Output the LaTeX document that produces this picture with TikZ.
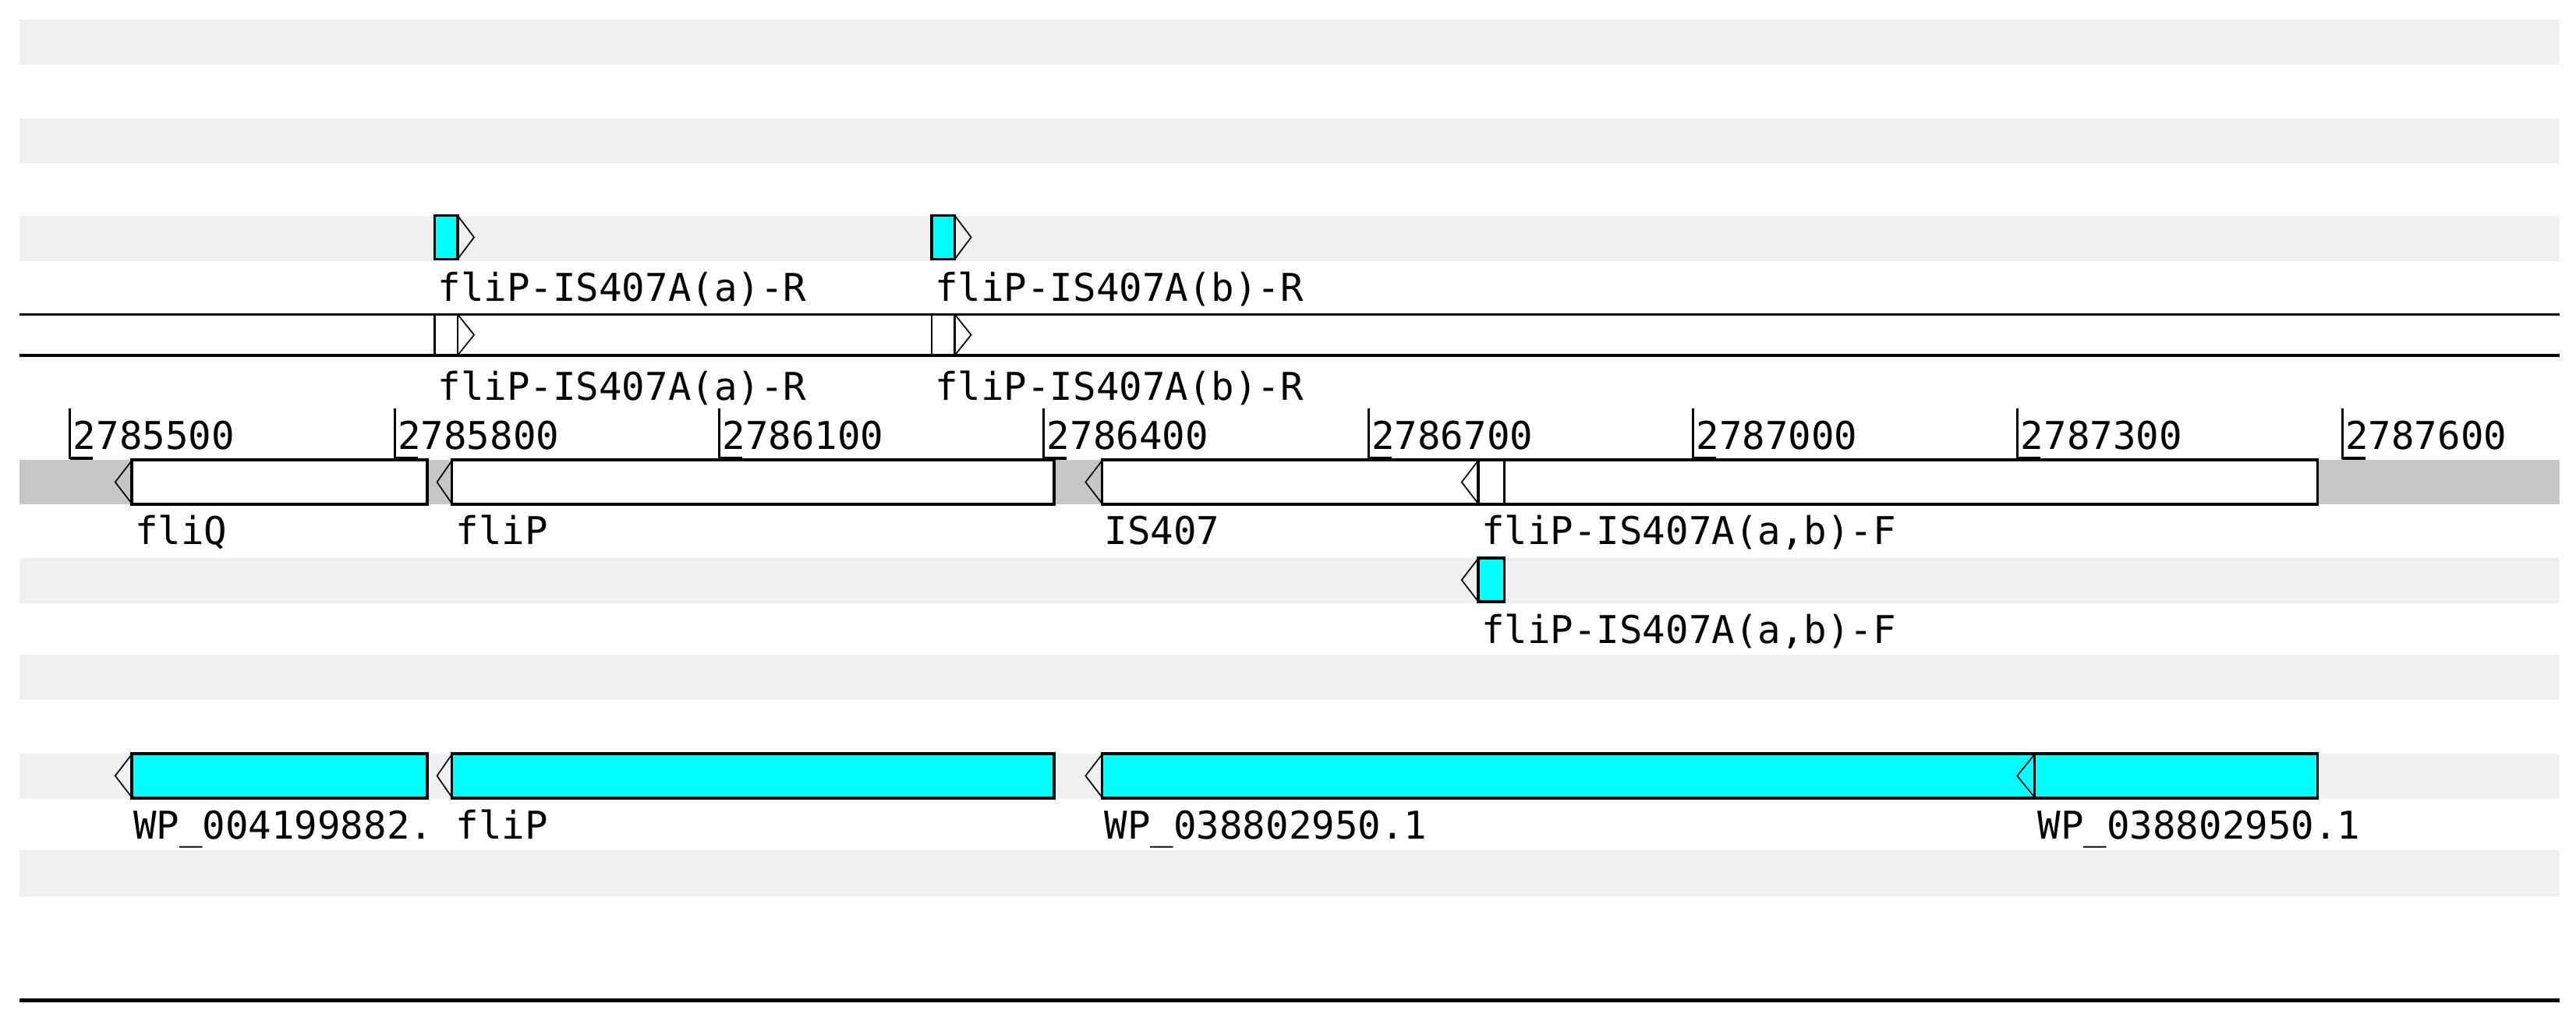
\documentclass[tikz,border=0pt]{standalone}
\usepackage{fontspec}
\setmonofont{DejaVu Sans Mono}
\definecolor{bandgrey}{HTML}{F0F0F0}
\definecolor{trackgrey}{HTML}{C6C6C6}
\definecolor{featcyan}{HTML}{00FFFF}
\begin{document}
\begin{tikzpicture}[x=1pt,y=-1pt,
  band/.style={fill=bandgrey},
  track/.style={fill=trackgrey},
  featbox/.style={draw=black,line width=1.7pt},
  headline/.style={draw=black,line width=0.8pt,line join=miter},
  rulerline/.style={draw=black,line width=1.5pt},
  lbl/.style={anchor=base west,inner sep=0pt,outer sep=0pt,font=\ttfamily\fontsize{23.25}{28}\selectfont}]
\useasboundingbox (0,0) rectangle (1565,620.5);
\fill[white] (0,0) rectangle (1565,620.5);
% bands
\foreach \yy in {12,72,131,339,398,458,517}
  \fill[band] (12,\yy) rectangle (1555,\yy+27.5);
\fill[track] (12,279.5) rectangle (1555,306.5);
% top track: reverse primers (cyan)
\foreach \xa in {264,566}{
  \draw[featbox,fill=featcyan] (\xa,131) rectangle (\xa+14,157.5);
  \draw[headline] (\xa+14,131) -- (\xa+24,144.2) -- (\xa+14,157.5);
}
\node[lbl] (ra1) at (266,183) {fliP-IS407A(a)-R};
\node[lbl] (rb1) at (568,183) {fliP-IS407A(b)-R};
% line track
\draw[rulerline] (12,191) -- (1555,191);
\draw[rulerline] (12,216) -- (1555,216);
\foreach \xa in {264,566}{
  \draw[line width=1.3pt] (\xa,191) -- (\xa,216);
  \draw[line width=1.3pt] (\xa+14,191) -- (\xa+14,216);
  \draw[headline] (\xa+14,191) -- (\xa+24,203.5) -- (\xa+14,216);
}
\node[lbl] (ra2) at (266,243) {fliP-IS407A(a)-R};
\node[lbl] (rb2) at (568,243) {fliP-IS407A(b)-R};
% ruler
\foreach \k/\lab in {0/2785500,1/2785800,2/2786100,3/2786400,4/2786700,5/2787000,6/2787300,7/2787600}{
  \pgfmathsetmacro{\tx}{42.5+197.2*\k}
  \draw[line width=1.4pt] (\tx,248) -- (\tx,279);
  \draw[line width=1.9pt] (\tx,278.3) -- (\tx+14,278.3);
  \node[lbl] (tick\k) at (\tx+2,273) {\lab};
}
% main track genes (white)
\draw[featbox,fill=white] (80,279.5) rectangle (259.5,306.5);
\draw[headline] (80,280) -- (70,293) -- (80,306);
\draw[featbox,fill=white] (274.5,279.5) rectangle (640.5,306.5);
\draw[headline] (274.5,280) -- (265.5,293) -- (274.5,306);
\draw[featbox,fill=white] (669.5,279.5) rectangle (1408,306.5);
\draw[headline] (669.5,280) -- (659.5,293) -- (669.5,306);
\draw[featbox,fill=white] (898,279.5) rectangle (914,306.5);
\draw[headline] (898,280) -- (888,293) -- (898,306);
\node[lbl] (gQ) at (82,331) {fliQ};
\node[lbl] (gP) at (277,331) {fliP};
\node[lbl] (gIS) at (671,331) {IS407};
\node[lbl] (gF) at (900,331) {fliP-IS407A(a,b)-F};
% forward primer (cyan)
\draw[featbox,fill=featcyan] (898,339.2) rectangle (914,365.7);
\draw[headline] (898,339.5) -- (888,352.5) -- (898,365.5);
\node[lbl] (pF) at (900,391) {fliP-IS407A(a,b)-F};
% CDS track (cyan)
\draw[featbox,fill=featcyan] (80,458) rectangle (259.5,485);
\draw[headline] (80,458.5) -- (70,471.5) -- (80,484.5);
\draw[featbox,fill=featcyan] (274.5,458) rectangle (640.5,485);
\draw[headline] (274.5,458.5) -- (265.5,471.5) -- (274.5,484.5);
\draw[featbox,fill=featcyan] (669.5,458) rectangle (1408,485);
\draw[headline] (669.5,458.5) -- (659.5,471.5) -- (669.5,484.5);
\draw[featbox,fill=featcyan] (1236,458) rectangle (1408,485);
\draw[headline] (1236,458.5) -- (1225.5,471.5) -- (1236,484.5);
\node[lbl] (c1) at (81,510) {WP\_004199882.};
\node[lbl] (c2) at (277,510) {fliP};
\node[lbl] (c3) at (671,510) {WP\_038802950.1};
\node[lbl] (c4) at (1238,510) {WP\_038802950.1};
% bottom line
\draw[line width=2.2pt] (12,608) -- (1555,608);
\end{tikzpicture}
\end{document}
